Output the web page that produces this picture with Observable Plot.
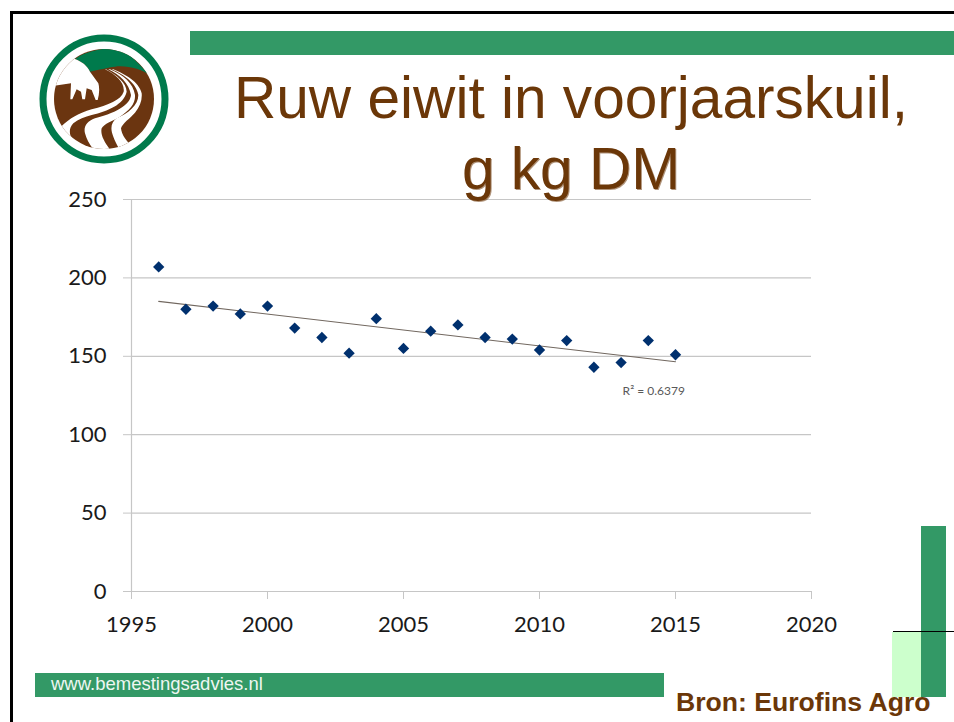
<!DOCTYPE html>
<html>
<head>
<meta charset="utf-8">
<script src="https://cdn.jsdelivr.net/npm/d3@7"></script>
<script src="https://cdn.jsdelivr.net/npm/@observablehq/plot@0.6"></script>
<style>
html,body{margin:0;padding:0;background:#fff;overflow:hidden}
#page{position:relative;width:954px;height:722px;overflow:hidden}
#chart svg{display:block;position:absolute;left:0;top:0}
.d{position:absolute}
.t{position:absolute;font-family:"Liberation Sans",Arial,sans-serif;color:#6b3708;white-space:nowrap}
</style>
</head>
<body>
<div id="page">
<div id="chart"></div>
<div class="d" style="left:10px;top:11px;width:944px;height:2.5px;background:#000"></div>
<div class="d" style="left:10px;top:11px;width:2.5px;height:711px;background:#000"></div>
<div class="d" style="left:190px;top:31px;width:764px;height:24px;background:#339966"></div>
<div class="d" style="left:35px;top:673px;width:629px;height:24px;background:#339966"></div>
<div class="d" style="left:892px;top:632px;width:29px;height:65px;background:#ccffcc"></div>
<div class="d" style="left:921px;top:526px;width:25px;height:171px;background:#339966"></div>
<div class="d" style="left:893px;top:631px;width:61px;height:1px;background:#000"></div>
<div class="t" id="title1" style="left:0;width:1142px;text-align:center;top:63px;font-size:58.6px;line-height:70px">Ruw eiwit in voorjaarskuil,</div>
<div class="t" id="title2" style="left:0;width:1142px;text-align:center;top:134px;font-size:58.6px;line-height:70px;text-shadow:1px 1px 0 #6b370888">g kg DM</div>
<div class="t" style="left:51px;top:674px;font-size:18.5px;line-height:19px;color:#eef6f2">www.bemestingsadvies.nl</div>
<div class="t" style="left:676px;top:687px;font-size:26.6px;line-height:30px;font-weight:bold">Bron: Eurofins Agro</div>
<svg class="d" style="left:0;top:0" width="200" height="180" viewBox="0 0 200 180">
  <defs><clipPath id="c"><circle cx="177" cy="177" r="150"/></clipPath></defs>
  <circle cx="104" cy="99" r="61" fill="#fff" stroke="#007a4c" stroke-width="7"/>
  <g transform="translate(45,40) scale(0.33333)" clip-path="url(#c)">
    <rect x="0" y="0" width="354" height="354" fill="#6b3510"/>
    <path d="M90,57C120,35 190,15 240,30L320,110C290,85 240,75 210,80C190,82 160,90 135,95C125,75 110,65 90,57Z" fill="#007a4c"/>
    <path d="M0,0L90,57C110,65 125,75 135,95L160,130Q166,150 158,180L152,180L140,150L125,145L120,178L112,178L108,155L95,148L82,178L76,178L78,130L28,137L0,137Z" fill="#fff"/>
    <path d="M180,88C215,105 240,130 236,155C228,180 190,195 140,208C100,220 75,235 50,258L30,300L90,335L95,315C75,295 66,270 85,250C100,238 120,230 140,225C190,212 235,195 245,155C245,130 215,105 183,88Z" fill="#fff"/>
    <path d="M190,88C225,105 252,130 258,165C256,190 225,215 150,235C125,245 115,260 120,280C125,300 135,315 150,335L200,335C180,310 165,285 170,265C178,250 200,245 225,230C255,210 272,190 270,165C265,130 235,105 195,88Z" fill="#fff"/>
    <path d="M200,88C235,103 275,130 280,165C280,195 250,220 215,235C198,248 195,265 205,290C210,305 218,318 228,335L262,320C245,305 230,285 228,265C232,250 255,235 270,218C285,200 292,180 290,160C282,125 240,103 205,88Z" fill="#fff"/>
  </g>
</svg>
</div>
<script>
const years = [1996,1997,1998,1999,2000,2001,2002,2003,2004,2005,2006,2007,2008,2009,2010,2011,2012,2013,2014,2015];
const values = [207,180,182,177,182,168,162,152,174,155,166,170,162,161,154,160,143,146,160,151];
const trendYears = [1996,2015];
const trendValues = [185,146.5];
const xTicks = [1995,2000,2005,2010,2015,2020];
const yTicks = [0,50,100,150,200,250];
const rSquaredLabel = "R² = 0.6379";
const rSquaredYear = 2014.2;
const rSquaredValue = 127.5;

const grey = "#c6c6c6";
const points = years.map((year,i)=>({year,value:values[i]}));
const trend = trendYears.map((year,i)=>({year,value:trendValues[i]}));

const plot = Plot.plot({
  width:954, height:722,
  marginLeft:131, marginRight:143, marginTop:199, marginBottom:131,
  style:{background:"transparent",fontFamily:"Lato, sans-serif"},
  x:{domain:[1995,2020]},
  y:{domain:[0,250]},
  marks:[
    Plot.ruleY(yTicks,{stroke:grey,strokeWidth:1.2,strokeOpacity:1}),
    Plot.ruleX([1995],{stroke:grey,strokeWidth:1.2}),
    Plot.axisX({ticks:xTicks,tickFormat:d=>String(d),tickSize:8,tickPadding:17,stroke:grey,strokeOpacity:1,fontSize:22,fill:"#1a1a1a",label:null}),
    Plot.axisY({ticks:yTicks,tickSize:8,tickPadding:17,stroke:grey,strokeOpacity:1,fontSize:22,fill:"#1a1a1a",label:null}),
    Plot.line(trend,{x:"year",y:"value",stroke:"#71675f",strokeWidth:1.1}),
    Plot.dot(points,{x:"year",y:"value",symbol:"diamond2",r:5.1,fill:"#00306e",stroke:"none"}),
    Plot.text([rSquaredLabel],{x:[rSquaredYear],y:[rSquaredValue],text:d=>d,fontSize:12,fill:"#595959"})
  ]
});
document.getElementById("chart").appendChild(plot);
</script>
</body>
</html>
